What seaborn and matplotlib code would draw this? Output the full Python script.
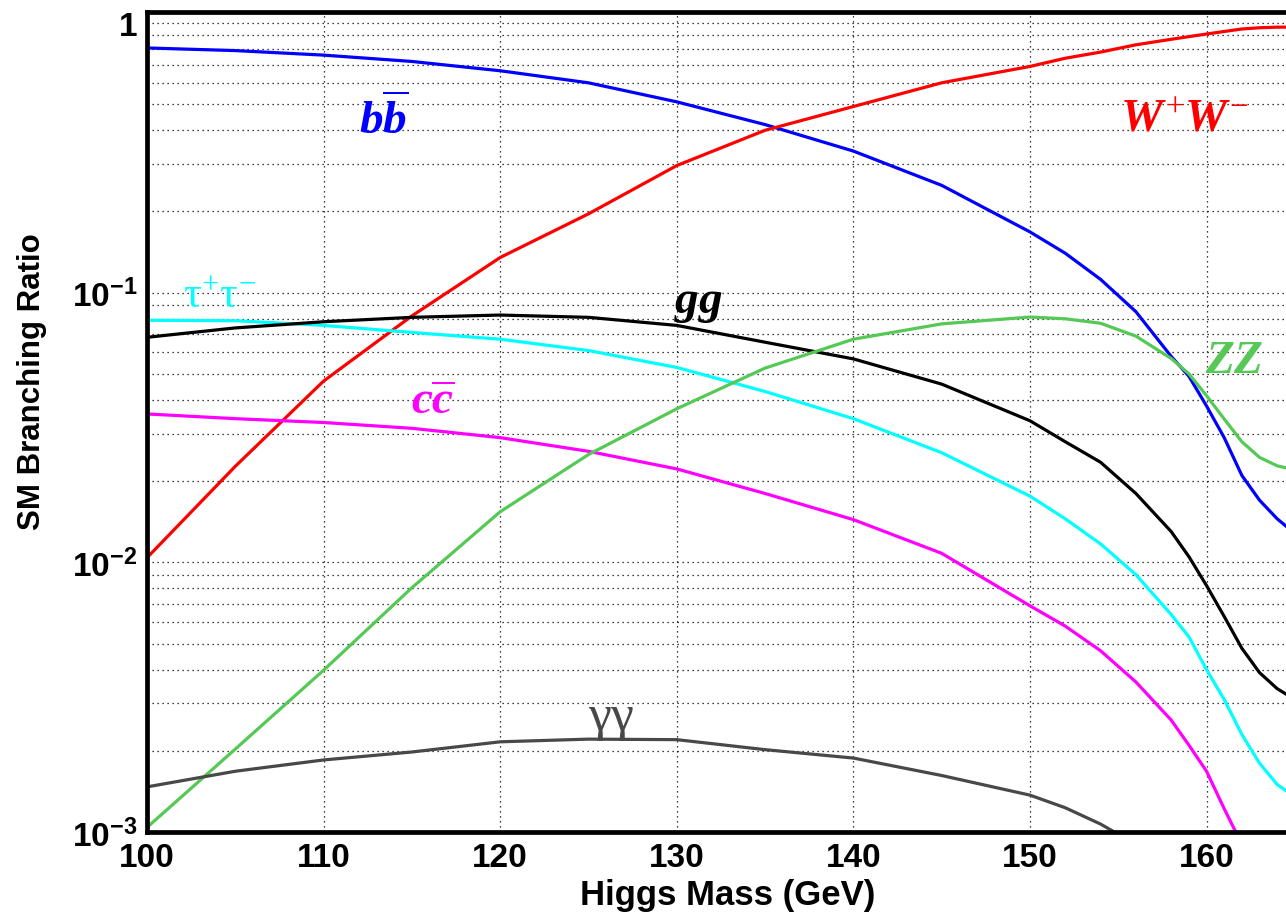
import matplotlib
matplotlib.use("Agg")
import matplotlib.pyplot as plt
import matplotlib.ticker as mticker
import seaborn as sns
import numpy as np
import pandas as pd

sns.set_theme(style="white")

# Higgs mass points (GeV)
mass = [100, 105, 110, 115, 120, 125, 130, 135, 140, 145, 150,
        152, 154, 156, 158, 159, 160, 161, 162, 163, 164, 165]

# branching ratios
br_bb = [0.808, 0.79, 0.76, 0.72, 0.665, 0.60, 0.51, 0.42, 0.335, 0.25, 0.168,
         0.14, 0.112, 0.085, 0.058, 0.049, 0.038, 0.029, 0.021, 0.017, 0.0145, 0.0128]
br_ww = [0.0104, 0.0227, 0.047, 0.082, 0.135, 0.196, 0.296, 0.40, 0.49, 0.60, 0.69,
         0.74, 0.78, 0.83, 0.87, 0.89, 0.91, 0.93, 0.95, 0.96, 0.965, 0.965]
br_tautau = [0.079, 0.0787, 0.0756, 0.0712, 0.0672, 0.061, 0.0528, 0.043, 0.0341, 0.0255, 0.0176,
             0.0145, 0.0117, 0.0090, 0.0064, 0.0053, 0.0040, 0.0031, 0.0023, 0.0018, 0.0015, 0.00135]
br_gg = [0.0683, 0.074, 0.078, 0.081, 0.0826, 0.081, 0.0756, 0.0655, 0.0568, 0.0458, 0.0335,
         0.028, 0.0235, 0.018, 0.013, 0.0105, 0.0082, 0.0063, 0.0048, 0.0039, 0.0034, 0.0031]
br_cc = [0.0355, 0.0341, 0.033, 0.0314, 0.029, 0.0258, 0.0222, 0.018, 0.0144, 0.0108, 0.0069,
         0.0058, 0.0047, 0.0036, 0.0026, 0.0021, 0.00168, 0.00122, 0.0009, np.nan, np.nan, np.nan]
br_zz = [0.00104, 0.00203, 0.00398, 0.00805, 0.0154, 0.0251, 0.0371, 0.0525, 0.0672, 0.0766, 0.0812,
         0.080, 0.077, 0.069, 0.057, 0.050, 0.0415, 0.034, 0.028, 0.0245, 0.0228, 0.022]
br_gamgam = [0.00147, 0.00168, 0.00185, 0.00198, 0.00216, 0.00221, 0.0022, 0.00202, 0.00188, 0.00162, 0.00137,
             0.00123, 0.00107, 0.0009, np.nan, np.nan, np.nan, np.nan, np.nan, np.nan, np.nan, np.nan]

channels = ["bb", "WW", "tautau", "gg", "cc", "ZZ", "gamgam"]
colors = {
    "bb": "#0000ff",
    "WW": "#ff0000",
    "tautau": "#00ffff",
    "gg": "#000000",
    "cc": "#ff00ff",
    "ZZ": "#55c855",
    "gamgam": "#484848",
}

df = pd.DataFrame({"mass": mass, "bb": br_bb, "WW": br_ww, "tautau": br_tautau,
                   "gg": br_gg, "cc": br_cc, "ZZ": br_zz, "gamgam": br_gamgam})
df = df.melt(id_vars="mass", var_name="channel", value_name="br").dropna()

plt.rcParams["font.family"] = ["Liberation Sans", "DejaVu Sans"]
plt.rcParams["text.color"] = "black"
plt.rcParams["axes.labelcolor"] = "black"
plt.rcParams["xtick.color"] = "black"
plt.rcParams["ytick.color"] = "black"
plt.rcParams["mathtext.fontset"] = "custom"
plt.rcParams["mathtext.rm"] = "Liberation Serif"
plt.rcParams["mathtext.it"] = "Liberation Serif:italic:bold"
plt.rcParams["mathtext.bf"] = "Liberation Serif:bold"
plt.rcParams["mathtext.sf"] = "Liberation Sans:bold"

fig = plt.figure(figsize=(12.86, 9.2), dpi=100)
ax = fig.add_axes([147 / 1286, 1 - 833 / 920, (1286 - 147) / 1286, (833 - 12.5) / 920])

sns.lineplot(data=df, x="mass", y="br", hue="channel", hue_order=channels,
             palette=colors, estimator=None, linewidth=2.3, legend=False, ax=ax)

ax.set_yscale("log")
ax.set_xlim(100, 164.5)
ax.set_ylim(1e-3, 1.103)

# ROOT-like frame
for side in ["left", "bottom", "top"]:
    ax.spines[side].set_linewidth(3.4)
    ax.spines[side].set_color("black")
ax.spines["right"].set_visible(False)

ax.set_xticks([100, 110, 120, 130, 140, 150, 160])
ax.xaxis.set_minor_locator(mticker.MultipleLocator(2))
ax.set_yticks([1e-3, 1e-2, 1e-1, 1])
ax.set_yticklabels([r"$\mathsf{10^{-3}}$", r"$\mathsf{10^{-2}}$", r"$\mathsf{10^{-1}}$", "1"])
ax.yaxis.set_minor_locator(mticker.LogLocator(base=10, subs=np.arange(2, 10), numticks=20))
ax.yaxis.set_minor_formatter(mticker.NullFormatter())

ax.tick_params(axis="both", which="both", direction="in", width=1.5, color="black",
               labelcolor="black", top=False, right=False, labelsize=24)
ax.tick_params(axis="x", which="major", length=16, pad=7)
ax.tick_params(axis="x", which="minor", length=8)
ax.tick_params(axis="y", which="major", length=24, pad=7)
ax.tick_params(axis="y", which="minor", length=12)
for lab in ax.get_xticklabels() + ax.get_yticklabels():
    lab.set_fontweight("bold")

ax.grid(True, which="major", axis="x", color="black", linestyle=(0, (1, 3)), linewidth=0.9)
ax.grid(True, which="both", axis="y", color="black", linestyle=(0, (1, 3)), linewidth=0.9)
ax.set_axisbelow(True)

ax.set_xlabel("Higgs Mass (GeV)", fontsize=25, fontweight="bold", color="black")
ax.xaxis.set_label_coords(0.51, -0.056)
ax.set_ylabel("SM Branching Ratio", fontsize=22.5, fontweight="bold", color="black")
ax.yaxis.set_label_coords(-0.088, 0.55)

# channel labels
ax.text(113.4, 0.388, r"$b\overline{b}$", color=colors["bb"], fontsize=34, ha="center", va="baseline")
ax.text(158.75, 0.398, r"$W^{+}W^{-}$", color=colors["WW"], fontsize=34, ha="center", va="baseline")
ax.text(104.1, 0.0886, r"$\mathrm{\tau^{+}\tau^{-}}$", color=colors["tautau"], fontsize=32, ha="center", va="baseline")
ax.text(131.2, 0.0847, r"$gg$", color=colors["gg"], fontsize=34, ha="center", va="baseline")
ax.text(116.2, 0.0355, r"$c\overline{c}$", color=colors["cc"], fontsize=34, ha="center", va="baseline")
ax.text(161.6, 0.0509, r"$ZZ$", color=colors["ZZ"], fontsize=34, ha="center", va="baseline")
ax.text(126.3, 0.00216, r"$\mathrm{\gamma\gamma}$", color=colors["gamgam"], fontsize=37, ha="center", va="bottom")

fig.savefig("out.png", dpi=100)
plt.close(fig)
